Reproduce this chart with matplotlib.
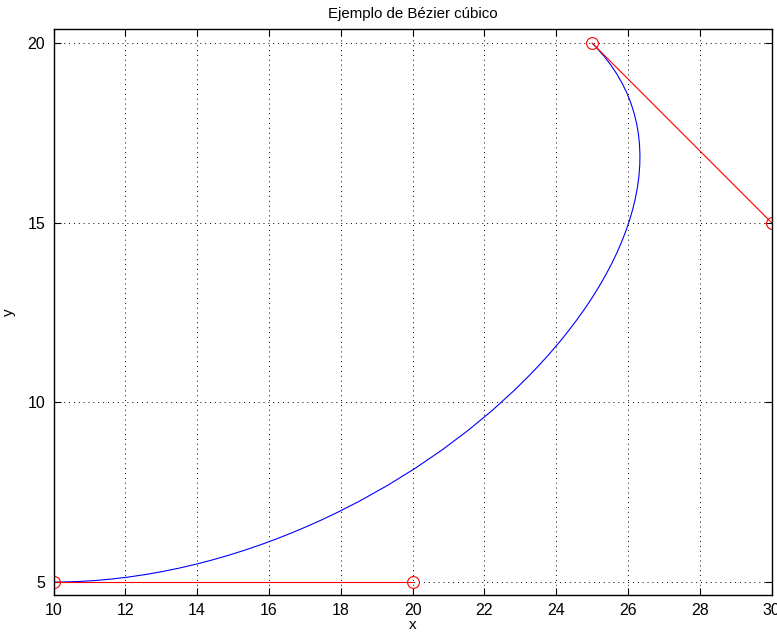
import numpy as np
import matplotlib.pyplot as plt
from matplotlib.path import Path
from matplotlib.patches import PathPatch

plt.rcParams['font.family'] = ['Liberation Sans', 'DejaVu Sans']

# control points of the cubic Bezier
px = [10, 20, 30, 25]
py = [5, 5, 15, 20]

xticks = [10, 12, 14, 16, 18, 20, 22, 24, 26, 28, 30]
yticks = [5, 10, 15, 20]

fig = plt.figure(figsize=(7.77, 6.37), dpi=100)
ax = fig.add_axes([0.0689, 0.0659, 0.9243, 0.8878])

verts = list(zip(px, py))
codes = [Path.MOVETO, Path.CURVE4, Path.CURVE4, Path.CURVE4]
curve = PathPatch(Path(verts, codes), facecolor='none', edgecolor='blue', lw=0.8)
ax.add_patch(curve)

# control polygon legs
ax.plot(px[:2], py[:2], color='red', lw=0.8, marker='o', ms=8.5, mfc='none', mew=0.8)
ax.plot(px[2:], py[2:], color='red', lw=0.8, marker='o', ms=8.5, mfc='none', mew=0.8)

ax.set_xlim(10, 30)
ax.set_ylim(4.64, 20.38)
ax.set_xticks(xticks)
ax.set_yticks(yticks)
ax.tick_params(direction='in', top=True, right=True, labelsize=11.5, length=5, width=0.8, pad=6)
ax.grid(True, color='black', linestyle=(0, (1, 4)), lw=0.7)
for s in ax.spines.values():
    s.set_linewidth(1.0)

ax.set_title('Ejemplo de Bézier cúbico', fontsize=10.8, pad=8)
ax.set_xlabel('x', fontsize=11, labelpad=0)
ax.set_ylabel('y', fontsize=11)
ax.yaxis.set_label_coords(-0.053, 0.5)

fig.savefig('out.png', dpi=100)
